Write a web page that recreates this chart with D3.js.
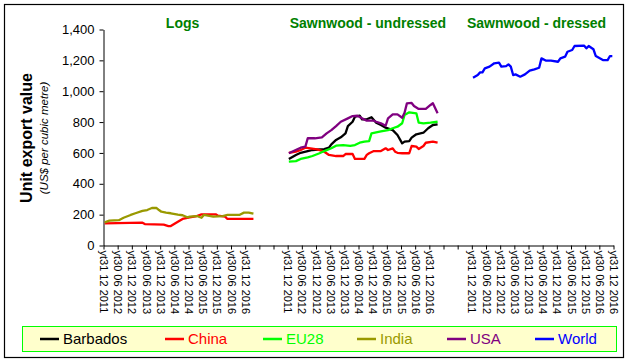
<!DOCTYPE html>
<html>
<head>
<meta charset="utf-8">
<script src="https://cdn.jsdelivr.net/npm/d3@7"></script>
<style>
  body { margin: 0; background: #fff; }
  svg { font-family: "Liberation Sans", Arial, sans-serif; }
</style>
</head>
<body>
<script>
// panel titles and x tick labels (every 6 months)
var panels = ["Logs", "Sawnwood - undressed", "Sawnwood - dressed"];
var tickLabels = ["yt31 12 2011", "yt30 06 2012", "yt31 12 2012", "yt30 06 2013",
  "yt31 12 2013", "yt30 06 2014", "yt31 12 2014", "yt30 06 2015",
  "yt31 12 2015", "yt30 06 2016", "yt31 12 2016"];
var yTicks = [0, 200, 400, 600, 800, 1000, 1200, 1400];

// [month index from Dec 2011, value US$/m3]
var logsChina = [[0,144],[16,148],[17,139],[25,135],[27,126],[28,126],[31,154],[33,172],
  [36,183],[39,191],[41,202],[47,202],[48,193],[51,187],[52,172],[63,172]];
var logsIndia = [[0,150],[2,161],[6,164],[8,180],[11,198],[13,209],[16,224],[18,230],
  [20,243],[22,243],[23,230],[24,219],[26,213],[28,209],[31,200],[33,196],[35,183],
  [36,187],[39,191],[41,180],[42,198],[46,187],[50,191],[52,198],[57,198],[59,213],
  [61,213],[63,206]];

var sawnBarbados = [[0,561],[3,587],[5,601],[8,612],[10,619],[15,625],[17,634],[18,656],
  [20,684],[22,701],[24,727],[25,774],[27,802],[28,835],[30,841],[31,818],[33,818],
  [35,831],[37,796],[39,781],[41,764],[43,753],[44,748],[46,716],[48,662],[49,673],
  [51,677],[52,699],[54,721],[57,731],[59,760],[61,781],[63,785]];
var sawnChina = [[0,601],[3,608],[5,619],[7,634],[12,623],[15,608],[17,587],[20,580],
  [23,580],[24,593],[27,593],[28,561],[32,561],[33,587],[34,598],[36,612],[39,612],
  [41,630],[42,619],[44,630],[45,608],[46,601],[48,598],[51,598],[52,645],[54,641],
  [55,625],[57,645],[58,666],[61,673],[63,666]];
var sawnEU28 = [[0,543],[3,547],[5,561],[8,571],[10,580],[13,598],[15,612],[18,630],
  [20,647],[23,651],[26,646],[28,651],[30,666],[32,673],[34,677],[35,727],[37,733],
  [39,739],[42,748],[44,760],[46,770],[48,792],[49,846],[51,863],[54,857],[55,796],
  [57,792],[60,796],[63,802]];
var sawnUSA = [[0,598],[2,612],[5,634],[7,641],[8,695],[11,695],[14,701],[16,727],
  [18,748],[20,774],[22,802],[25,824],[27,839],[29,841],[31,824],[33,809],[36,809],
  [37,802],[39,792],[41,776],[42,824],[44,850],[46,850],[48,828],[49,861],[50,921],
  [52,924],[53,904],[55,885],[58,885],[60,911],[61,922],[62,889],[63,857]];

var dressedWorld = [[0,1087],[2,1105],[3,1122],[4,1122],[5,1148],[7,1159],[9,1181],
  [11,1185],[12,1159],[14,1163],[15,1174],[16,1159],[17,1105],[18,1109],[20,1094],
  [22,1109],[24,1133],[26,1142],[28,1152],[29,1213],[31,1198],[33,1198],[36,1191],
  [37,1213],[39,1224],[40,1256],[42,1267],[43,1293],[47,1296],[48,1278],[49,1293],
  [51,1272],[52,1228],[55,1202],[57,1202],[58,1228],[59,1228]];

var legendNames = ["Barbados", "China", "EU28", "India", "USA", "World"];
var colors = {Barbados: "#000000", China: "#ff0000", EU28: "#00ff00",
  India: "#999900", USA: "#800080", World: "#0000ff"};

var series = [
  {name: "China", panel: 0, data: logsChina},
  {name: "India", panel: 0, data: logsIndia},
  {name: "Barbados", panel: 1, data: sawnBarbados},
  {name: "China", panel: 1, data: sawnChina},
  {name: "EU28", panel: 1, data: sawnEU28},
  {name: "USA", panel: 1, data: sawnUSA},
  {name: "World", panel: 2, data: dressedWorld}
];

var svgWidth = 628, svgHeight = 362;
var margin = {top: 29.5, left: 103.5};
var width = 510, height = 216;
var panelSpan = 78; // 13 ticks of 6 months per panel

var svg = d3.select("body").append("svg")
  .attr("width", svgWidth)
  .attr("height", svgHeight);

// outer border
svg.append("rect")
  .attr("x", 4.5).attr("y", 4.5)
  .attr("width", 619).attr("height", 353)
  .attr("fill", "#fff")
  .attr("stroke", "#000")
  .attr("stroke-width", 1.2);

var chart = svg.append("g")
  .attr("transform", `translate(${margin.left}, ${margin.top})`);

var x = d3.scaleLinear().domain([0, panelSpan * 3 - 18]).range([0, width]);
var y = d3.scaleLinear().domain([0, 1400]).range([height, 0]);

// x axis
var xAxis = d3.axisBottom(x)
  .tickValues(d3.range(0, panelSpan * 3 - 17, 6))
  .tickSize(4)
  .tickSizeOuter(0)
  .tickFormat(function (d) {
    var k = d / 6, r = k % 13;
    return r <= 10 ? tickLabels[r] : "";
  });

var gx = chart.append("g")
  .attr("transform", `translate(0, ${height})`)
  .call(xAxis);
gx.selectAll("text")
  .attr("transform", "rotate(90)")
  .attr("x", 5)
  .attr("y", 0)
  .attr("dy", "0.35em")
  .style("text-anchor", "start")
  .style("font-size", "11px")
  .attr("fill", "#000");

// y axis
var yAxis = d3.axisLeft(y)
  .tickValues(yTicks)
  .tickSize(4)
  .tickSizeOuter(0)
  .tickPadding(5)
  .tickFormat(d3.format(","));

var gy = chart.append("g").call(yAxis);
gy.selectAll("text").style("font-size", "13px").attr("fill", "#000");
chart.selectAll(".domain").attr("stroke", "#000");
chart.selectAll(".tick line").attr("stroke", "#000");

// series lines
series.forEach(function (s) {
  var ln = d3.line()
    .x(d => x(s.panel * panelSpan + d[0] + 0.5))
    .y(d => y(d[1]));
  chart.append("path")
    .datum(s.data)
    .attr("fill", "none")
    .attr("stroke", colors[s.name])
    .attr("stroke-width", 2.3)
    .attr("stroke-linejoin", "round")
    .attr("d", ln);
});

// panel titles
var titleIdx = [33.5, 112, 183.4];
chart.selectAll(".ptitle")
  .data(panels)
  .enter()
  .append("text")
  .attr("x", (d, i) => x(titleIdx[i]))
  .attr("y", -1.5)
  .style("text-anchor", "middle")
  .style("font-size", "14px")
  .style("font-weight", "bold")
  .attr("fill", "#008000")
  .text(d => d);

// y axis titles
svg.append("text")
  .attr("transform", "translate(32, 138) rotate(-90)")
  .style("text-anchor", "middle")
  .style("font-size", "16px")
  .style("font-weight", "bold")
  .text("Unit export value");

svg.append("text")
  .attr("transform", "translate(48, 138) rotate(-90)")
  .style("text-anchor", "middle")
  .style("font-size", "11.5px")
  .style("font-style", "italic")
  .text("(US$ per cubic metre)");

// legend
var legend = svg.append("g");
legend.append("rect")
  .attr("x", 22.5).attr("y", 326.5)
  .attr("width", 594).attr("height", 25)
  .attr("fill", "#ffffcc")
  .attr("stroke", "#00ff00")
  .attr("stroke-width", 1);

var legendX = [40, 165, 263, 357, 447, 535];
var items = legend.selectAll(".item")
  .data(legendNames)
  .enter()
  .append("g")
  .attr("transform", (d, i) => `translate(${legendX[i]}, 339)`);
items.append("line")
  .attr("x1", 0).attr("x2", 19)
  .attr("stroke", d => colors[d])
  .attr("stroke-width", 2.5);
items.append("text")
  .attr("x", 23)
  .attr("dy", "0.36em")
  .style("font-size", "15px")
  .attr("fill", d => colors[d])
  .text(d => d);
</script>
</body>
</html>
